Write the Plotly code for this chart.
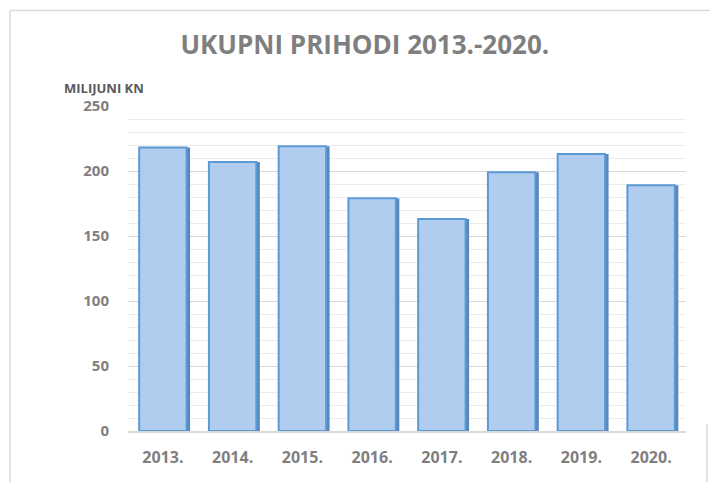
import plotly.graph_objects as go

# Ukupni prihodi po godinama (milijuni kn), procijenjeno sa slike
years = ["2013.", "2014.", "2015.", "2016.", "2017.", "2018.", "2019.", "2020."]
revenue = [218, 207, 219, 179, 163, 199, 213, 189]
y_ticks = [0, 50, 100, 150, 200, 250]

GREY = "#7f7f7f"

fig = go.Figure()

# darker right-hand side of each column, faking the 3D depth
fig.add_trace(go.Bar(
    x=years, y=revenue, width=0.06, offset=0.33,
    marker=dict(color="#5a86c0", line=dict(width=0)),
    hoverinfo="skip", showlegend=False,
))
fig.add_trace(go.Bar(
    x=years, y=revenue, width=0.68, offset=-0.34,
    marker=dict(color="#b0cdef", line=dict(color="#5b9bd5", width=2)),
    showlegend=False,
))

fig.update_layout(
    width=718, height=482,
    margin=dict(l=120, r=40, t=98, b=59),
    barmode="overlay",
    plot_bgcolor="white", paper_bgcolor="white",
    font=dict(family="Open Sans", color=GREY),
    title=dict(
        text="<b>UKUPNI PRIHODI 2013.-2020.</b>",
        x=0.497, xanchor="center", y=0.923, yanchor="middle",
        font=dict(size=26, color=GREY, family="Open Sans"),
    ),
    annotations=[dict(
        text="<b>MILIJUNI KN</b>", xref="paper", yref="paper",
        x=-0.118, y=1.055, xanchor="left", yanchor="middle", showarrow=False,
        font=dict(size=13, color="#595959", family="Open Sans"),
    )],
    shapes=[
        dict(type="line", xref="paper", yref="paper", x0=-0.2115, x1=1.08,
             y0=1.294, y1=1.294, line=dict(color="#d9d9d9", width=1.5)),
        dict(type="line", xref="paper", yref="paper", x0=-0.2115, x1=-0.2115,
             y0=1.294, y1=-0.2, line=dict(color="#d9d9d9", width=1.5)),
        dict(type="line", xref="paper", yref="paper", x0=1.0376, x1=1.0376,
             y0=0.02, y1=-0.2, line=dict(color="#d9d9d9", width=1.5)),
    ],
)

fig.update_xaxes(
    showgrid=False, showline=True, linecolor="#d9d9d9", linewidth=1.5,
    ticks="", ticklabelstandoff=11,
    tickfont=dict(size=16, color=GREY, family="Open Sans", weight="bold"),
)
fig.update_yaxes(
    range=[0, 250], tickvals=y_ticks, showline=False, zeroline=False,
    gridcolor="#d9d9d9", gridwidth=1.2,
    minor=dict(dtick=10, showgrid=True, gridcolor="#ececec", gridwidth=1),
    ticks="", ticklabelstandoff=18,
    tickfont=dict(size=15, color=GREY, family="Open Sans", weight="bold"),
)

fig.write_html("out.html")
